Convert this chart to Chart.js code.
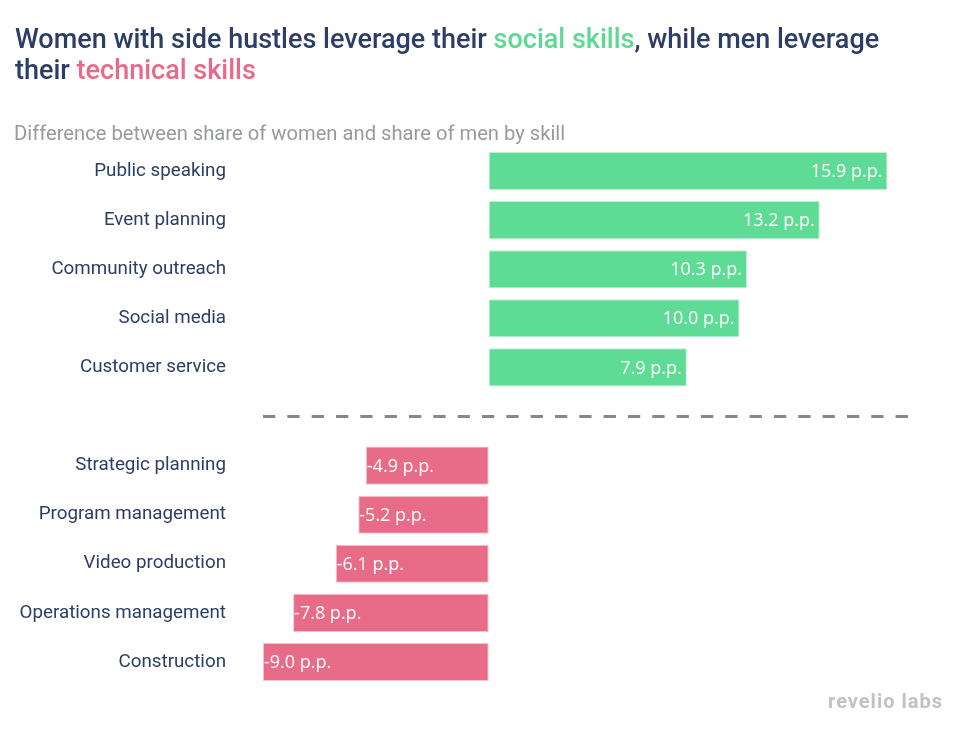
<!DOCTYPE html>
<html>
<head>
<meta charset="utf-8">
<script src="https://cdn.jsdelivr.net/npm/chart.js@4.4.1/dist/chart.umd.min.js"></script>
<style>
  html, body { margin: 0; padding: 0; background: #fff; width: 961px; height: 730px; overflow: hidden; }
  #wrap { position: relative; width: 961px; height: 730px; }
  #chart { position: absolute; left: 0; top: 0; }
  .title { position: absolute; left: 15px; top: 24px; font-family: Roboto, sans-serif; font-weight: 500; font-size: 27px; line-height: 31px; color: #2c3d66; margin: 0; }
  .green { color: #5dd993; }
  .pink { color: #e8698a; }
  .subtitle { position: absolute; left: 14px; top: 121px; font-family: Roboto, sans-serif; font-size: 20.2px; color: #979a9e; }
  .logo { position: absolute; left: 828px; top: 689px; font-family: Roboto, sans-serif; font-weight: 700; font-size: 20px; color: #c2c2c2; letter-spacing: 1px; }
</style>
</head>
<body>
<div id="wrap">
  <canvas id="chart" width="961" height="730"></canvas>
  <div class="title">Women with side hustles leverage their <span class="green">social skills</span>, while men leverage<br>their <span class="pink">technical skills</span></div>
  <div class="subtitle">Difference between share of women and share of men by skill</div>
  <div class="logo">revelio labs</div>
</div>
<script>
// Data
const skills = [
  "Public speaking", "Event planning", "Community outreach", "Social media", "Customer service",
  "",
  "Strategic planning", "Program management", "Video production", "Operations management", "Construction"
];
const differencePP = [15.9, 13.2, 10.3, 10.0, 7.9, null, -4.9, -5.2, -6.1, -7.8, -9.0];
const valueSuffix = " p.p.";
const separatorIndex = 5;

const GREEN = "#5edb95";
const GREEN_BORDER = "#bff0d4";
const PINK = "#e86b88";
const PINK_BORDER = "#f2c3cf";

const labelPlugin = {
  id: "barLabels",
  afterDatasetsDraw(chart) {
    const ctx = chart.ctx;
    const meta = chart.getDatasetMeta(0);
    ctx.save();
    ctx.font = "18px 'Open Sans', sans-serif";
    ctx.fillStyle = "#ffffff";
    ctx.textBaseline = "middle";
    meta.data.forEach((bar, i) => {
      const v = differencePP[i];
      if (v === null || v === undefined) return;
      const txt = v.toFixed(1) + valueSuffix;
      if (v >= 0) {
        ctx.textAlign = "right";
        ctx.fillText(txt, bar.x - 5, bar.y + 1);
      } else {
        ctx.textAlign = "left";
        ctx.fillText(txt, bar.x + 1, bar.y + 1);
      }
    });
    ctx.restore();
  }
};

const separatorPlugin = {
  id: "separator",
  afterDatasetsDraw(chart) {
    const ctx = chart.ctx;
    const y = chart.scales.y.getPixelForValue(separatorIndex);
    const area = chart.chartArea;
    ctx.save();
    ctx.strokeStyle = "#888888";
    ctx.lineWidth = 3;
    ctx.setLineDash([12.3, 12.03]);
    ctx.beginPath();
    ctx.moveTo(area.left, y);
    ctx.lineTo(area.right, y);
    ctx.stroke();
    ctx.restore();
  }
};

new Chart(document.getElementById("chart"), {
  type: "bar",
  data: {
    labels: skills,
    datasets: [{
      data: differencePP,
      backgroundColor: differencePP.map(v => (v !== null && v < 0) ? PINK : GREEN),
      borderColor: differencePP.map(v => (v !== null && v < 0) ? PINK_BORDER : GREEN_BORDER),
      borderWidth: 1,
      borderSkipped: false,
      barPercentage: 0.776,
      categoryPercentage: 1.0
    }]
  },
  options: {
    indexAxis: "y",
    responsive: false,
    animation: false,
    layout: { padding: { top: 146.5, bottom: 43.5, left: 0, right: 51 } },
    plugins: { legend: { display: false }, tooltip: { enabled: false }, title: { display: false } },
    scales: {
      x: {
        display: false,
        min: -9.0,
        max: 16.8
      },
      y: {
        grid: { display: false, drawTicks: false },
        border: { display: false },
        afterFit(scale) {
          scale.width = 263;
          scale.paddingTop = 0;
          scale.paddingBottom = 0;
        },
        ticks: {
          padding: 37,
          color: "#2c3d66",
          font: { family: "Roboto, sans-serif", size: 18.8 },
          autoSkip: false
        }
      }
    }
  },
  plugins: [labelPlugin, separatorPlugin]
});
</script>
</body>
</html>
